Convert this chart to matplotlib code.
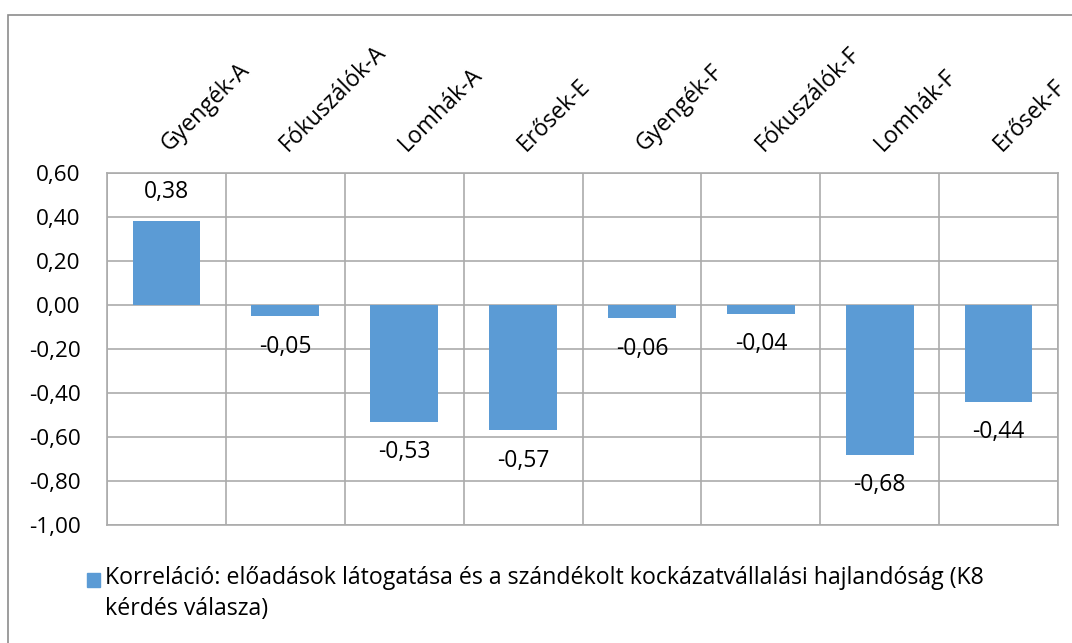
import matplotlib
matplotlib.use("Agg")
import matplotlib.pyplot as plt
from matplotlib.patches import Rectangle
import numpy as np

categories = ["Gyengék-A", "Fókuszálók-A", "Lomhák-A", "Erősek-E",
              "Gyengék-F", "Fókuszálók-F", "Lomhák-F", "Erősek-F"]
values = [0.38, -0.05, -0.53, -0.57, -0.06, -0.04, -0.68, -0.44]
value_labels = ["0,38", "-0,05", "-0,53", "-0,57", "-0,06", "-0,04", "-0,68", "-0,44"]
yticks = [0.6, 0.4, 0.2, 0.0, -0.2, -0.4, -0.6, -0.8, -1.0]
ytick_labels = ["0,60", "0,40", "0,20", "0,00", "-0,20", "-0,40", "-0,60", "-0,80", "-1,00"]
legend_label = ("Korreláció: előadások látogatása és a szándékolt kockázatvállalási hajlandóság (K8\n"
                "kérdés válasza)")

plt.rcParams['font.family'] = ['Open Sans', 'DejaVu Sans']
W, H = 1072, 643
fig = plt.figure(figsize=(W / 100, H / 100), dpi=100)
ax = fig.add_axes([107 / W, 1 - 525 / H, (1058 - 107) / W, (525 - 173) / H])

bar_color = "#5B9BD5"
grid_color = "#ABABAB"
x = np.arange(len(categories))
ax.bar(x, values, width=0.57, color=bar_color, zorder=3)

ax.set_xlim(-0.5, len(categories) - 0.5)
ax.set_ylim(-1.0, 0.6)
ax.set_yticks(yticks)
ax.set_yticklabels(ytick_labels, fontsize=16.2)
ax.tick_params(axis='y', length=0, pad=19)
ax.set_xticks([])
ax.set_xticks(np.arange(len(categories) + 1) - 0.5, minor=True)
ax.tick_params(axis='x', which='both', length=0)
ax.grid(axis='y', which='major', color=grid_color, linewidth=1.2, zorder=0)
ax.grid(axis='x', which='minor', color=grid_color, linewidth=1.2, zorder=0)
for s in ax.spines.values():
    s.set_color(grid_color)
    s.set_linewidth(1.2)

for xi, v, lab in zip(x, values, value_labels):
    off = 21 if v >= 0 else -22
    ax.annotate(lab, (xi, v), xytext=(0, off), textcoords='offset points',
                ha='center', va='center', fontsize=16.5, zorder=4)

for xi, cat in zip(x, categories):
    ax.annotate(cat, (xi, 1.0), xycoords=('data', 'axes fraction'),
                xytext=(5, 12), textcoords='offset points',
                rotation=45, rotation_mode='anchor', ha='left', va='bottom',
                fontsize=16.6)

# Legend drawn manually
fig.patches.append(Rectangle((87 / W, 1 - 587 / H), 13 / W, 14 / H,
                             transform=fig.transFigure, color=bar_color))
fig.text(105 / W, 1 - 566 / H, legend_label, ha='left', va='top',
         fontsize=16.7, linespacing=1.4, transform=fig.transFigure)

# Outer chart border
fig.patches.append(Rectangle((8 / W, -0.1), 1.2, 1 - 15 / H + 0.1,
                             transform=fig.transFigure, fill=False,
                             edgecolor="#8C8C8C", linewidth=1.2))

fig.savefig("out.png", dpi=100)
